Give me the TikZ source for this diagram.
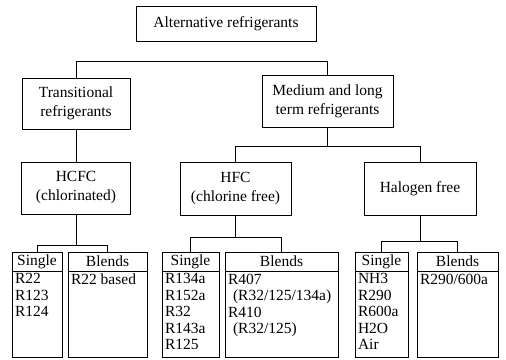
\documentclass[tikz,border=0pt]{standalone}
\usepackage{fontspec}
\setmainfont{Liberation Serif}
\usetikzlibrary{positioning}

\begin{document}
\begin{tikzpicture}[
	x=1pt, y=-1pt, on grid, line width=0.7pt,
	box/.style={draw, align=center, inner sep=0pt, font=\fontsize{15.5}{19}\selectfont},
	hdr/.style={draw, minimum height=19pt, inner sep=0pt, font=\fontsize{15.5}{17}\selectfont},
	colbox/.style={draw, minimum height=86pt, anchor=north},
	entries/.style={anchor=north west, align=left, inner xsep=3pt, inner ysep=2pt, font=\fontsize{15.5}{16.5}\selectfont}
	]
	\useasboundingbox (0,0) rectangle (506,359);
	\node[box, minimum width=180pt, minimum height=35pt] (alt) at (226,23.5) {Alternative refrigerants};
	\node[box, minimum width=108pt, minimum height=51pt] (trans) [below left=80pt and 150pt of alt] {Transitional\\refrigerants};
	\node[box, minimum width=131pt, minimum height=52pt] (medium) [below right=77.5pt and 101.5pt of alt] {Medium and long\\term refrigerants};
	\node[box, minimum width=109pt, minimum height=52pt] (hcfc) [below=84.5pt of trans] {HCFC\\(chlorinated)};
	\node[box, minimum width=111pt, minimum height=53pt] (hfc) [below left=87.5pt and 92pt of medium] {HFC\\(chlorine free)};
	\node[box, minimum width=112pt, minimum height=53pt] (halo) [right=184.5pt of hfc] {Halogen free};

	% column heads
	\node[hdr, minimum width=50pt] (s1) at (37,261.5) {Single};
	\node[hdr, minimum width=79pt] (b1) at (107.5,261.5) {Blends};
	\node[hdr, minimum width=57pt] (s2) at (190.5,261.5) {Single};
	\node[hdr, minimum width=113pt] (b2) at (281.5,261.5) {Blends};
	\node[hdr, minimum width=53pt] (s3) at (381.5,261.5) {Single};
	\node[hdr, minimum width=81pt] (b3) at (457.5,261.5) {Blends};

	% column bodies
	\node[colbox, minimum width=50pt] (s1l) at (s1.south) {};
	\node[colbox, minimum width=79pt] (b1l) at (b1.south) {};
	\node[colbox, minimum width=57pt] (s2l) at (s2.south) {};
	\node[colbox, minimum width=113pt] (b2l) at (b2.south) {};
	\node[colbox, minimum width=53pt] (s3l) at (s3.south) {};
	\node[colbox, minimum width=81pt] (b3l) at (b3.south) {};
	\node[entries] (s1t) at (s1l.north west) {R22\\R123\\R124};
	\node[entries] (b1t) at (b1l.north west) {R22 based};
	\node[entries] (s2t) at (s2l.north west) {R134a\\R152a\\R32\\R143a\\R125};
	\node[entries] (b2t) at (b2l.north west) {R407\\\hspace*{5pt}(R32/125/134a)\\R410\\\hspace*{5pt}(R32/125)};
	\node[entries] (s3t) at (s3l.north west) {NH3\\R290\\R600a\\H2O\\Air};
	\node[entries] (b3t) at (b3l.north west) {R290/600a};

	% connectors
	\draw (trans.north) -- ++(0,-16) -| (medium.north);
	\draw (trans) -- (hcfc);
	\draw (medium.south) -- ++(0,19) coordinate (mj);
	\draw (hfc.north) |- (mj) -| (halo.north);
	\draw (hcfc.south) -- ++(0,31) coordinate (j1);
	\draw (s1.north) |- (j1) -| (b1.north);
	\draw (hfc.south) -- ++(0,22) coordinate (j2);
	\draw (s2.north) |- (j2) -| (b2.north);
	\draw (halo.south) -- ++(0,26) coordinate (j3);
	\draw (s3.north) |- (j3) -| (b3.north);
\end{tikzpicture}
\end{document}
